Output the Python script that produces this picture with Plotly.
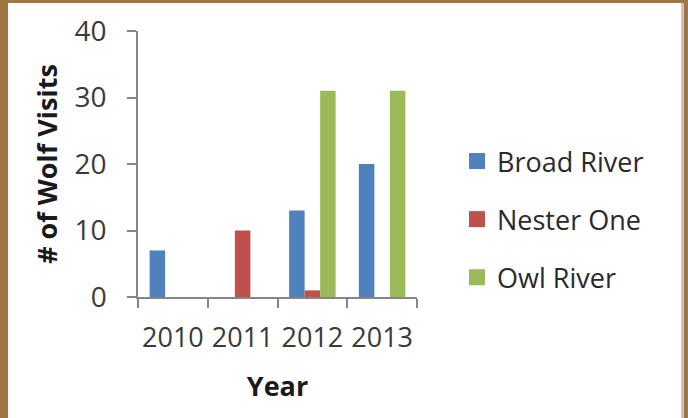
import plotly.graph_objects as go

years = ["2010", "2011", "2012", "2013"]
broad_river = [7, 0, 13, 20]
nester_one = [0, 10, 1, 0]
owl_river = [0, 0, 31, 31]
series_names = ["Broad River", "Nester One", "Owl River"]
colors = ["#4F81BD", "#C0504D", "#9BBB59"]
y_ticks = [0, 10, 20, 30, 40]

W, H = 688, 418
L, R, T, B = 138, 271, 31, 121
pw, ph = W - L - R, H - T - B


def px(x):
    return (x - L) / pw


def py(y):
    return 1 - (y - T) / ph


fig = go.Figure()
for name, vals, col in zip(series_names, [broad_river, nester_one, owl_river], colors):
    fig.add_trace(go.Bar(x=years, y=vals, name=name, marker=dict(color=col, line=dict(width=0)),
                         legendgroup=name, showlegend=False))
    fig.add_trace(go.Scatter(x=[None], y=[None], mode="markers", name=name, legendgroup=name,
                             marker=dict(symbol="square", size=16, color=col), showlegend=True))

axis_col = "#868686"
fig.update_layout(
    width=W, height=H,
    margin=dict(l=L, r=R, t=T, b=B, pad=0),
    paper_bgcolor="white", plot_bgcolor="white",
    barmode="group", bargap=0.333, bargroupgap=0,
    font=dict(family="Open Sans", color="#3a3a3a"),
    showlegend=True,
    legend=dict(x=px(457), y=py(137), xanchor="left", yanchor="top",
                font=dict(size=27, color="#2a2a2a"), tracegroupgap=20,
                traceorder="grouped", itemsizing="trace", bgcolor="rgba(0,0,0,0)"),
    xaxis=dict(type="category", showgrid=False, showline=True, linecolor=axis_col, linewidth=1.5,
               ticks="outside", tickson="boundaries", ticklen=9, tickcolor=axis_col, tickwidth=1.5,
               tickfont=dict(size=27, color="#3a3a3a"), ticklabelstandoff=16, tickangle=0,
               title=dict(text="<b>Year</b>", font=dict(size=27, color="#1a1a1a"), standoff=23),
               zeroline=False, fixedrange=True),
    yaxis=dict(range=[0, 40], tickvals=y_ticks, showgrid=False, showline=True, linecolor=axis_col,
               linewidth=1.5, ticks="outside", ticklen=9, tickcolor=axis_col, tickwidth=1.5,
               tickfont=dict(size=28, color="#3a3a3a"), ticklabelstandoff=15,
               title=dict(text="<b># of Wolf Visits</b>", font=dict(size=27, color="#1a1a1a"), standoff=9),
               zeroline=False, fixedrange=True),
)

border = "#A27545"
shapes = [
    dict(type="rect", xref="paper", yref="paper", x0=px(0), x1=px(8), y0=py(H), y1=py(0),
         fillcolor=border, line=dict(width=0)),
    dict(type="rect", xref="paper", yref="paper", x0=px(0), x1=px(W), y0=py(3), y1=py(0),
         fillcolor=border, line=dict(width=0)),
    dict(type="rect", xref="paper", yref="paper", x0=px(681), x1=px(684), y0=py(H), y1=py(3),
         fillcolor="#C4C4C4", line=dict(width=0)),
    dict(type="rect", xref="paper", yref="paper", x0=px(684), x1=px(W), y0=py(H), y1=py(0),
         fillcolor=border, line=dict(width=0)),
]
fig.update_layout(shapes=shapes)

fig.write_html("out.html", config={"displayModeBar": False},
               post_script="document.body.style.margin='0';document.body.style.overflow='hidden';")
